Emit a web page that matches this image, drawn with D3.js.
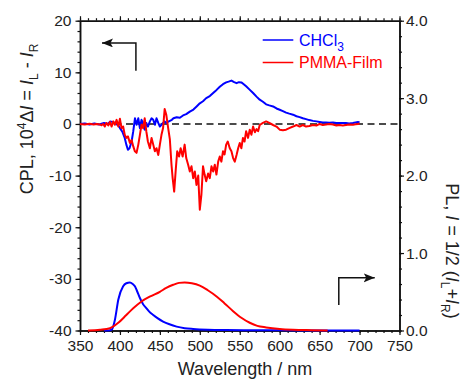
<!DOCTYPE html>
<html><head><meta charset="utf-8">
<script src="https://cdn.jsdelivr.net/npm/d3@7"></script>
<style>
body{margin:0;background:#fff}
text{font-family:"Liberation Sans",Arial,sans-serif;fill:#222}
</style>
</head><body><svg id="c" width="462" height="380"></svg>
<script>
// ---------- data ----------
const xTicks = [350,400,450,500,550,600,650,700,750];
const cplTicks = [-40,-30,-20,-10,0,10,20];
const plTicks = [0,1,2,3,4];
const seriesNames = ["CHCl3","PMMA-Film"];
const seriesColors = ["#0000ff","#ff0000"];

const cplBlueWl = [350,356,362,368,374,380,385,388,392,395,398,400,403,406,408,410,412,414.6,416.7,418.8,420.8,423,425,427,429,431,433,435,437.5,439.6,441.7,443.8,445.8,448,450,452,454,456,458,460,462.5,465,467,471,475,479,483,487.5,492,496,500,504,508,512.5,516.7,521,525,529,533,536,539.6,543,546,549,552,555,558,562,566.7,571,575,579,583,587,591.7,596,600,604,608,612,616.7,621,625,629,633,637,641.7,646,650,654,658,662,666.7,671,675,679,683,687,691.7,695,698,700];
const cplBlueVal = [0,0.1,-0.1,0.1,-0.1,0.2,0,0.5,0.3,0,-0.3,-0.8,-1.5,-2.7,-4.0,-5.0,-4.7,-3.4,-1.4,1.1,-0.15,1.1,-0.8,0.8,0.2,-1.1,0.2,-0.5,0.5,1.1,0.8,-0.15,1.1,0.2,-0.5,-0.15,0.2,0.5,0.2,0.4,0.6,0.8,1.1,1.3,1.2,1.65,1.9,2.4,2.8,3.4,4.0,4.4,5.0,5.4,6.0,6.6,7.2,7.7,8.05,8.2,8.4,8.1,7.9,8.1,8.05,7.7,7.3,6.7,6.0,5.3,4.7,4.3,3.8,3.6,3.4,3.0,2.75,2.5,2.2,2.0,1.8,1.5,1.33,1.1,0.94,0.75,0.6,0.5,0.4,0.3,0.3,0.25,0.3,0.2,0.17,0.2,0.17,0.1,0.17,0.3,0.4,0.3];

const cplRedWl = [350,356,362,367,371,375,377,379,381,383,385.4,387.5,389.6,391.7,393.75,395.8,398,400,402,404,406,408,410,412.5,414.6,416.7,418.75,420.8,423,425,427,429,431,433,435,437.5,439.6,441.7,443.75,445.8,448,450,452,454,456,458,460.4,462.5,464.6,466,467.9,470,471.7,474,476,478.5,481,483,485.4,487.5,489.6,491.7,493.75,495.8,498,500,502,504,506,508,510.4,512.5,514.6,516.7,518.75,520.8,523,525,527,529,531,533,535,537.5,539.6,541.7,543.75,546,548,550,552,554,556,558,560.4,562.5,564.6,566.7,569,571,573,575,579,583,587,591.7,596,600,604,608,612,616.7,621,625,629,633,637,641.7,646,650,654,658,662,666.7,671,675,679,683,687,691.7,695,698,700];
const cplRedVal = [0,-0.1,0.05,-0.1,0,-0.1,-0.26,0,-0.5,0.2,-0.3,0.4,-0.5,0.5,-0.15,0.8,-0.5,1.0,-0.8,-0.5,-2.1,-2.7,-2.4,-3.7,-3.1,-4.35,-5.3,-5.6,-4.0,-2.1,-0.15,-0.8,1.1,-1.4,-3.4,-4.7,-2.7,-4.0,-5.3,-4.7,-6.0,-4.0,-2.1,-0.8,2.9,1.8,-0.8,-3.0,-8.0,-10.5,-13.1,-8.6,-5.3,-6.3,-4.7,-6.3,-4.0,-6.6,-7.9,-9.2,-8.2,-10.5,-9.2,-11.8,-10.0,-16.6,-13.7,-8.2,-9.8,-11.1,-9.6,-10.5,-8.2,-9.2,-7.9,-9.8,-7.3,-6.3,-7.3,-5.3,-5.9,-4.0,-3.4,-4.7,-5.3,-6.6,-7.3,-6.0,-4.7,-3.7,-4.7,-2.7,-3.4,-1.4,-2.7,-1.1,-2.1,-0.5,-1.6,-1.0,-1.4,-0.2,0.2,0.5,0.2,-0.2,-0.5,-1.1,-1.2,-1.1,-0.8,-0.5,-0.2,-0.5,-0.2,-0.5,-0.4,-0.2,-0.3,0,-0.2,-0.1,0,-0.1,-0.3,-0.2,-0.3,-0.2,-0.1,-0.15,-0.05,0,0.1];

const plBlueWl = [380,386,389.6,393.75,398,404,408,412.5,416,418.75,421,425,429,433,437,441.7,447,454,462,471,481,491.7,510,533,560,600,650,700];
const plBlueVal = [0,0,0.01,0.14,0.40,0.57,0.61,0.62,0.60,0.57,0.52,0.42,0.34,0.29,0.24,0.20,0.16,0.116,0.08,0.05,0.03,0.02,0.01,0.005,0.003,0.002,0.001,0];

const plRedWl = [360,375,387.5,398,408,417,427,438,450,458,466.7,474,481,490,500,510,521,531,541.7,552,562.5,572,583,600,616.7,640,660];
const plRedVal = [0,0.01,0.03,0.10,0.20,0.29,0.375,0.44,0.50,0.55,0.59,0.615,0.62,0.61,0.58,0.52,0.44,0.35,0.25,0.165,0.10,0.06,0.04,0.02,0.01,0.004,0];

// annotation arrows, in data units: [wavelength, value]
const arrowCPL = [[420,10.3],[420,15.7],[377.5,15.7]];
const arrowPL = [[674,0.33],[674,0.68],[719,0.68]];

// ---------- drawing ----------
const svg = d3.select("#c");
const x = d3.scaleLinear().domain([350,750]).range([80,399.5]);
const yL = d3.scaleLinear().domain([-40,20]).range([330.5,20.7]);
const yR = d3.scaleLinear().domain([0,4]).range([330.5,20.7]);
const fs = 15.5;

function styleAxis(g){
  g.selectAll("path.domain").attr("stroke","#111").attr("stroke-width",1.5);
  g.selectAll(".tick line").attr("stroke","#111").attr("stroke-width",1.2);
  g.selectAll(".tick text").attr("font-size",fs).attr("fill","#222")
   .style("font-family",'"Liberation Sans",Arial,sans-serif');
}
const fmt = d => String(d);
// bottom
svg.append("g").attr("transform","translate(0,330.5)")
  .call(d3.axisBottom(x).tickValues(d3.range(350,751,10)).tickSize(2.5).tickSizeOuter(0).tickFormat(""))
  .call(styleAxis);
svg.append("g").attr("transform","translate(0,330.5)")
  .call(d3.axisBottom(x).tickValues(xTicks).tickSize(4.5).tickSizeOuter(0).tickPadding(5).tickFormat(fmt))
  .call(styleAxis);
// top
svg.append("g").attr("transform","translate(0,20.7)")
  .call(d3.axisTop(x).tickValues(d3.range(350,751,10)).tickSize(2.5).tickSizeOuter(0).tickFormat(""))
  .call(styleAxis);
svg.append("g").attr("transform","translate(0,20.7)")
  .call(d3.axisTop(x).tickValues(xTicks).tickSize(4.5).tickSizeOuter(0).tickFormat(""))
  .call(styleAxis);
// left
svg.append("g").attr("transform","translate(80,0)")
  .call(d3.axisLeft(yL).tickValues(d3.range(-40,21,2)).tickSize(2.5).tickSizeOuter(0).tickFormat(""))
  .call(styleAxis);
svg.append("g").attr("transform","translate(80,0)")
  .call(d3.axisLeft(yL).tickValues(cplTicks).tickSize(4.5).tickSizeOuter(0).tickPadding(4).tickFormat(fmt))
  .call(styleAxis);
// right
svg.append("g").attr("transform","translate(399.5,0)")
  .call(d3.axisRight(yR).tickValues(d3.range(0,4.01,0.2)).tickSize(2.5).tickSizeOuter(0).tickFormat(""))
  .call(styleAxis);
svg.append("g").attr("transform","translate(399.5,0)")
  .call(d3.axisRight(yR).tickValues(plTicks).tickSize(4.5).tickSizeOuter(0).tickPadding(2).tickFormat(d3.format(".1f")))
  .call(styleAxis);

// zero dashed line
svg.append("line").attr("x1",x(350)).attr("x2",x(750)).attr("y1",yL(0)).attr("y2",yL(0))
  .attr("stroke","#111").attr("stroke-width",1.5).attr("stroke-dasharray","7,4.5");

// data lines
const zip = (a,b) => a.map((v,i)=>[v,b[i]]);
const lineL = d3.line().x(d=>x(d[0])).y(d=>yL(d[1]));
const lineR = d3.line().x(d=>x(d[0])).y(d=>yR(d[1])).curve(d3.curveMonotoneX);
const lw = 2;
svg.append("path").datum(zip(plBlueWl,plBlueVal)).attr("d",lineR).attr("fill","none").attr("stroke",seriesColors[0]).attr("stroke-width",lw);
svg.append("path").datum(zip(plRedWl,plRedVal)).attr("d",lineR).attr("fill","none").attr("stroke",seriesColors[1]).attr("stroke-width",lw);
svg.append("path").datum(zip(cplBlueWl,cplBlueVal)).attr("d",lineL).attr("fill","none").attr("stroke",seriesColors[0]).attr("stroke-width",lw).attr("stroke-linejoin","round");
svg.append("path").datum(zip(cplRedWl,cplRedVal)).attr("d",lineL).attr("fill","none").attr("stroke",seriesColors[1]).attr("stroke-width",lw).attr("stroke-linejoin","round");

// arrows
const defs = svg.append("defs");
defs.append("marker").attr("id","ah").attr("markerUnits","userSpaceOnUse")
  .attr("markerWidth",14).attr("markerHeight",10).attr("refX",11).attr("refY",4.5).attr("orient","auto")
  .append("path").attr("d","M0,0 L11,4.5 L0,9 L2.5,4.5 Z").attr("fill","#111");
svg.append("path").datum(arrowCPL).attr("d",d3.line().x(d=>x(d[0])).y(d=>yL(d[1])))
  .attr("fill","none").attr("stroke","#111").attr("stroke-width",1.5).attr("marker-end","url(#ah)");
svg.append("path").datum(arrowPL).attr("d",d3.line().x(d=>x(d[0])).y(d=>yR(d[1])))
  .attr("fill","none").attr("stroke","#111").attr("stroke-width",1.5).attr("marker-end","url(#ah)");

// legend
const leg = svg.append("g");
[0,1].forEach(i=>{
  const yy = 40 + i*22.5;
  leg.append("line").attr("x1",262.7).attr("x2",293.3).attr("y1",yy).attr("y2",yy)
    .attr("stroke",seriesColors[i]).attr("stroke-width",1.5);
  const t = leg.append("text").attr("x",299).attr("y",yy+5.5).attr("font-size",16).style("fill",seriesColors[i]);
  if(i===0){
    t.append("tspan").text("CHCl");
    t.append("tspan").attr("dy",5).attr("font-size",12).text("3");
  } else t.text(seriesNames[1]);
});

// x title
svg.append("text").attr("x",245).attr("y",375).attr("text-anchor","middle").attr("font-size",18).text("Wavelength / nm");

// left title
const lt = svg.append("text").attr("transform","translate(33,119) rotate(-90)").attr("text-anchor","middle").attr("font-size",18);
lt.append("tspan").text("CPL, 10");
lt.append("tspan").attr("dy",-7).attr("font-size",12).text("4");
lt.append("tspan").attr("dy",7).text("Δ");
lt.append("tspan").attr("font-style","italic").text("I");
lt.append("tspan").text(" = ");
lt.append("tspan").attr("font-style","italic").text("I");
lt.append("tspan").attr("dy",5).attr("font-size",12).text("L");
lt.append("tspan").attr("dy",-5).text(" - ");
lt.append("tspan").attr("font-style","italic").text("I");
lt.append("tspan").attr("dy",5).attr("font-size",12).text("R");

// right title
const rt = svg.append("text").attr("transform","translate(446,251) rotate(90)").attr("text-anchor","middle").attr("font-size",18);
rt.append("tspan").text("PL, ");
rt.append("tspan").attr("font-style","italic").text("I");
rt.append("tspan").text(" = 1/2 (");
rt.append("tspan").attr("font-style","italic").text("I");
rt.append("tspan").attr("dy",5).attr("font-size",12).text("L");
rt.append("tspan").attr("dy",-5).text("+");
rt.append("tspan").attr("font-style","italic").text("I");
rt.append("tspan").attr("dy",5).attr("font-size",12).text("R");
rt.append("tspan").attr("dy",-5).text(")");
</script>
</body></html>
